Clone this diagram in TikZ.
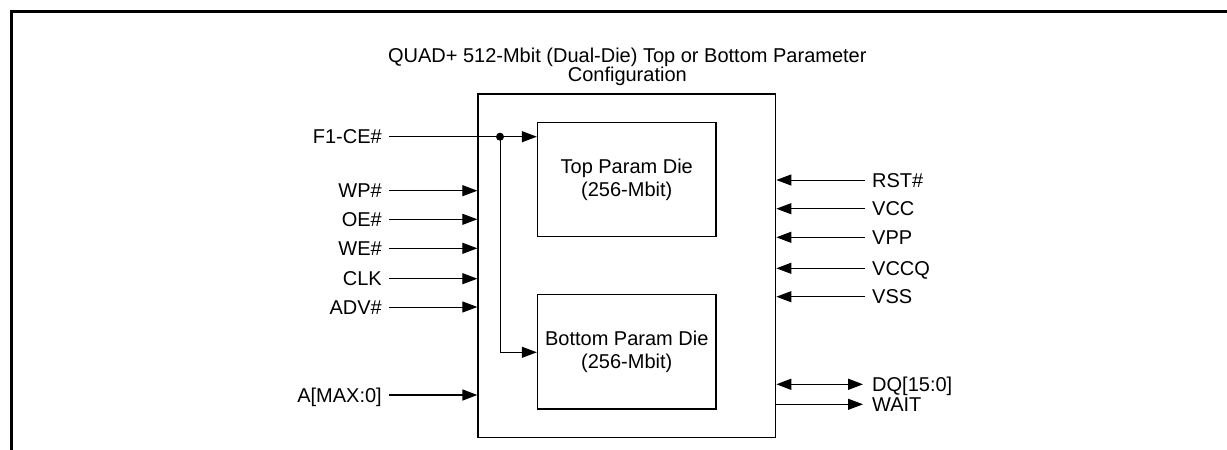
\documentclass[tikz,border=0pt]{standalone}
\usepackage{fontspec}
\setmainfont{Liberation Sans}
\usetikzlibrary{arrows.meta}
\begin{document}
\begin{tikzpicture}[x=1pt,y=-1pt,
  every node/.style={font=\fontsize{20}{22.7}\selectfont},
  box/.style={draw, line width=1.3pt, inner sep=0pt},
  die/.style={box, minimum width=178.5pt, align=center},
  lbl/.style={inner ysep=0pt, inner xsep=7pt, text height=14pt, text depth=0pt},
  sig/.style={line width=1pt, -{Triangle[length=15pt,width=11pt]}},
  bus/.style={sig, line width=1.6pt},
  bidir/.style={line width=1.6pt, {Triangle[length=15pt,width=11pt]}-{Triangle[length=15pt,width=11pt]}},
  plain/.style={line width=1pt}]
\useasboundingbox (0,0) rectangle (1227,450);
% outer frame
\draw[line width=3pt] (11.5,450) -- (11.5,11.2) -- (1227,11.2);
% title
\node[align=center, font=\fontsize{20}{19}\selectfont, inner sep=0pt] (title) at (627.3,66.5)
  {QUAD+ 512-Mbit (Dual-Die) Top or Bottom Parameter\\Configuration};
% boxes
\node[box, minimum width=297.7pt, minimum height=343.7pt] (chip) at (626.85,265.85) {};
\node[die, minimum height=114.4pt] (top) at (626.75,179.5) {Top Param Die\\(256-Mbit)};
\node[die, minimum height=114.7pt] (bot) at (626.75,351.65) {Bottom Param Die\\(256-Mbit)};
% left labels
\node[lbl, anchor=east] (f1)  at (389,136.7) {F1-CE\#};
\node[lbl, anchor=east] (wp)  at (389,190.7) {WP\#};
\node[lbl, anchor=east] (oe)  at (389,219.3) {OE\#};
\node[lbl, anchor=east] (we)  at (389,248.3) {WE\#};
\node[lbl, anchor=east] (clk) at (389,278.7) {CLK};
\node[lbl, anchor=east] (adv) at (389,307) {ADV\#};
\node[lbl, anchor=east] (addr) at (389,395) {A[MAX:0]};
% right labels
\node[lbl, anchor=west] (rst)  at (865,180) {RST\#};
\node[lbl, anchor=west] (vcc)  at (865,208.7) {VCC};
\node[lbl, anchor=west] (vpp)  at (865,237.3) {VPP};
\node[lbl, anchor=west] (vccq) at (865,268.3) {VCCQ};
\node[lbl, anchor=west] (vss)  at (865,296.7) {VSS};
\node[lbl, anchor=west] (dq)   at (865,384.3) {DQ[15:0]};
\node[lbl, anchor=west] (wait) at (865,404.3) {WAIT};
% left inputs
\foreach \s in {wp,oe,we,clk,adv}
  \draw[sig] (\s.east) -- (\s.east -| chip.west);
\draw[bus] (addr.east) -- (addr.east -| chip.west);
% chip enable fan-out
\coordinate (j) at (500,136.7);
\coordinate (k) at (500,352.3);
\draw[sig] (f1.east) -- (f1.east -| top.west);
\draw[sig] (j) -- (k) -- (k -| bot.west);
\fill (j) circle (4pt);
% right inputs
\foreach \s in {rst,vcc,vpp,vccq,vss}
  \draw[sig] (\s.west) -- (\s.west -| chip.east);
\draw[bidir] (dq.west -| chip.east) -- ([xshift=-2pt]dq.west);
\draw[sig] (wait.west -| chip.east) -- ([xshift=-2pt]wait.west);
\end{tikzpicture}
\end{document}
